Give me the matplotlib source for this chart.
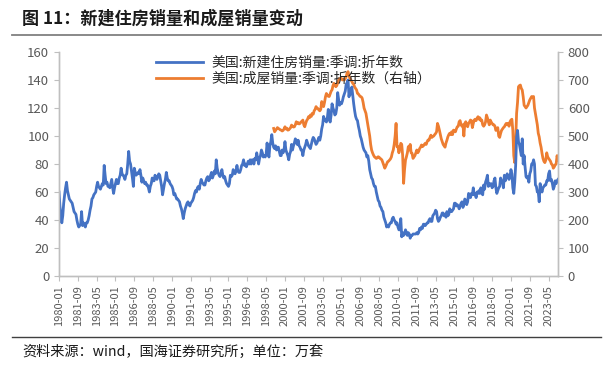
import matplotlib
matplotlib.use('Agg')
import matplotlib.pyplot as plt
import numpy as np
import pandas as pd

plt.rcParams['font.family'] = ['Noto Sans CJK SC', 'DejaVu Sans']

# US new home sales, SAAR, 万套 (monthly, 1980-01 .. 2024-03)
new_sales = [
    60, 50, 44, 38, 43, 52, 58, 63, 67, 61, 58, 55,      # 1980
    54, 53, 52, 49, 46, 45, 44, 40, 37, 35, 36, 37,      # 1981
    46, 36, 38, 37, 35, 38, 38, 40, 43, 47, 50, 55,      # 1982
    56, 58, 59, 60, 64, 67, 64, 63, 62, 64, 66, 65,      # 1983
    79, 72, 66, 67, 64, 64, 63, 66, 69, 63, 59, 63,      # 1984
    66, 69, 66, 66, 70, 72, 77, 73, 72, 71, 69, 72,      # 1985
    73, 80, 89, 82, 80, 75, 70, 64, 77, 74, 72, 73,      # 1986
    74, 73, 76, 72, 67, 70, 68, 66, 67, 65, 65, 63,      # 1987
    60, 64, 66, 70, 68, 68, 72, 70, 69, 71, 73, 72,      # 1988
    68, 64, 58, 62, 66, 69, 74, 70, 68, 68, 66, 65,      # 1989
    64, 62, 58, 59, 57, 55, 55, 54, 53, 50, 48, 45,      # 1990
    41, 45, 48, 50, 52, 53, 51, 50, 52, 53, 54, 56,      # 1991
    59, 61, 60, 63, 64, 62, 66, 69, 67, 66, 65, 65,      # 1992
    68, 70, 71, 68, 69, 72, 74, 70, 72, 75, 73, 83,      # 1993
    77, 74, 72, 71, 73, 76, 72, 70, 71, 68, 66, 65,      # 1994
    64, 66, 72, 71, 72, 76, 74, 73, 75, 79, 75, 74,      # 1995
    74, 76, 79, 80, 83, 79, 80, 78, 80, 82, 80, 83,      # 1996
    80, 83, 83, 80, 84, 83, 88, 84, 80, 84, 86, 90,      # 1997
    88, 85, 86, 85, 87, 95, 88, 85, 93, 96, 101, 95,     # 1998
    92, 91, 93, 90, 92, 92, 89, 86, 86, 90, 88, 90,      # 1999
    96, 90, 88, 86, 83, 87, 89, 94, 90, 93, 95, 98,      # 2000
    97, 94, 97, 93, 92, 90, 90, 86, 90, 92, 94, 97,      # 2001
    95, 93, 92, 91, 94, 97, 99, 98, 96, 94, 95, 97,      # 2002
    99, 97, 100, 105, 108, 114, 112, 111, 110, 113, 119, 112,   # 2003
    110, 115, 123, 120, 118, 115, 116, 120, 131, 126, 122, 124,  # 2004
    123, 125, 128, 130, 132, 137, 138, 140, 128, 133, 130, 135,  # 2005
    129, 123, 118, 114, 112, 111, 107, 104, 100, 98, 95, 92,     # 2006
    90, 89, 88, 85, 86, 82, 76, 73, 70, 69, 66, 64,      # 2007
    64, 60, 57, 54, 53, 50, 49, 47, 46, 42, 40, 38,      # 2008
    35, 36, 35, 37, 38, 38, 41, 42, 40, 39, 37, 38,      # 2009
    35, 33, 33, 41, 28, 31, 29, 30, 33, 31, 29, 31,      # 2010
    30, 27, 29, 29, 30, 30, 30, 30, 31, 30, 31, 34,      # 2011
    33, 35, 34, 37, 37, 36, 37, 38, 38, 40, 41, 39,      # 2012
    39, 43, 44, 45, 47, 46, 41, 39, 40, 42, 43, 45,      # 2013
    45, 43, 44, 42, 46, 43, 44, 48, 46, 46, 47, 48,      # 2014
    52, 52, 50, 51, 50, 48, 50, 52, 53, 49, 51, 55,      # 2015
    54, 51, 53, 59, 58, 56, 59, 58, 63, 58, 59, 56,      # 2016
    60, 59, 61, 59, 63, 61, 58, 65, 62, 67, 69, 72,      # 2017
    64, 66, 65, 66, 63, 64, 68, 70, 63, 59, 61, 63,      # 2018
    64, 70, 68, 67, 63, 72, 68, 70, 73, 71, 69, 71,      # 2019
    76, 73, 63, 59, 67, 79, 99, 104, 96, 94, 90, 86,     # 2020
    98, 80, 86, 78, 71, 70, 71, 67, 73, 75, 80, 80,      # 2021
    83, 80, 65, 64, 60, 60, 53, 66, 62, 60, 63, 64,      # 2022
    65, 65, 68, 68, 73, 75, 68, 69, 66, 62, 64, 68,      # 2023
    66, 68, 69,                                          # 2024
]

# US existing home sales, SAAR, 万套 (monthly, 1999-01 .. 2024-03), right axis
existing_sales = [
    527, 515, 520, 525, 530, 527, 525, 522, 521, 518, 520, 525,  # 1999
    533, 525, 528, 521, 522, 526, 530, 539, 535, 532, 533, 540,  # 2000
    551, 545, 548, 543, 545, 550, 553, 557, 540, 533, 545, 555,  # 2001
    560, 569, 565, 575, 570, 581, 578, 590, 595, 605, 600, 598,  # 2002
    593, 590, 595, 623, 615, 605, 620, 640, 652, 645, 642, 641,  # 2003
    650, 660, 665, 680, 688, 685, 676, 680, 690, 700, 705, 706,  # 2004
    706, 700, 702, 700, 705, 712, 725, 730, 715, 706, 700, 695,  # 2005
    688, 685, 675, 670, 665, 652, 650, 645, 641, 640, 635, 620,  # 2006
    600, 590, 581, 560, 540, 521, 500, 470, 450, 440, 432, 426,  # 2007
    423, 420, 422, 426, 424, 420, 418, 414, 405, 395, 385, 392,  # 2008
    400, 408, 410, 414, 418, 425, 440, 450, 470, 500, 545, 462,  # 2009
    462, 440, 455, 474, 470, 430, 331, 380, 414, 426, 440, 462,  # 2010
    450, 470, 440, 438, 420, 425, 430, 440, 450, 440, 445, 455,  # 2011
    460, 468, 462, 465, 470, 474, 470, 480, 486, 485, 495, 503,  # 2012
    495, 498, 500, 505, 509, 515, 545, 535, 521, 505, 490, 480,  # 2013
    470, 465, 460, 475, 485, 497, 505, 510, 505, 515, 505, 521,  # 2014
    520, 515, 525, 533, 535, 551, 555, 540, 535, 540, 500, 545,  # 2015
    551, 540, 533, 545, 550, 557, 555, 530, 545, 557, 560, 555,  # 2016
    563, 569, 560, 565, 555, 557, 540, 535, 540, 550, 575, 565,  # 2017
    551, 540, 557, 550, 545, 540, 540, 535, 520, 525, 530, 500,  # 2018
    495, 509, 520, 525, 530, 533, 540, 545, 540, 545, 535, 551,  # 2019
    557, 560, 520, 430, 405, 480, 581, 620, 676, 680, 682, 670,  # 2020
    664, 640, 610, 605, 600, 605, 610, 620, 629, 635, 641, 640,  # 2021
    641, 600, 581, 560, 540, 510, 497, 475, 460, 438, 420, 410,  # 2022
    405, 414, 440, 426, 420, 415, 410, 400, 397, 385, 390, 397,  # 2023
    400, 430, 414,                                               # 2024
]

months = pd.period_range('1980-01', periods=len(new_sales), freq='M')
exist_start = list(months.strftime('%Y-%m')).index('1999-01')

left_ticks = [0, 20, 40, 60, 80, 100, 120, 140, 160]
right_ticks = [0, 100, 200, 300, 400, 500, 600, 700, 800]

blue = '#4472C4'
orange = '#ED7D31'
grey = '#595959'
axis_grey = '#BFBFBF'

fig = plt.figure(figsize=(6.1, 3.65), dpi=100)
ax = fig.add_axes([0.0967, 0.2438, 0.8181, 0.6137])
ax2 = ax.twinx()

x = np.arange(len(new_sales))
x2 = np.arange(exist_start, exist_start + len(existing_sales))

l1, = ax.plot(x, new_sales, color=blue, lw=2.0, label='美国:新建住房销量:季调:折年数')
l2, = ax2.plot(x2, existing_sales, color=orange, lw=2.0, label='美国:成屋销量:季调:折年数（右轴）')

# blue line above orange
ax.set_zorder(ax2.get_zorder() + 1)
ax.patch.set_visible(False)

ax.set_xlim(0, len(new_sales) - 1)
ax.set_ylim(0, 160)
ax2.set_ylim(0, 800)
ax.set_yticks(left_ticks)
ax2.set_yticks(right_ticks)

xt = np.arange(0, len(new_sales), 20)
ax.set_xticks(xt)
ax.set_xticklabels([months[i].strftime('%Y-%m') for i in xt], rotation=90)

for a in (ax, ax2):
    for s in a.spines.values():
        s.set_color(axis_grey)
        s.set_linewidth(1.0)
    a.spines['top'].set_visible(False)
    a.tick_params(colors=grey, labelsize=9.5, length=3.5, width=0.8)
    a.tick_params(axis='both', color=axis_grey)
ax.tick_params(axis='x', labelsize=8, pad=3)

ax.legend(handles=[l1, l2], loc='upper center', bbox_to_anchor=(0.47, 1.04),
          frameon=False, fontsize=10, handlelength=3.4, handletextpad=0.6,
          labelspacing=0.15, labelcolor='#262626')

fig.text(0.036, 0.948, '图 11：新建住房销量和成屋销量变动', fontsize=12.3,
         fontweight='bold', color='#1a1a1a', va='center')
fig.add_artist(plt.Line2D([0.02, 0.985], [0.905, 0.905], color='#808080', lw=1.3))
fig.add_artist(plt.Line2D([0.02, 0.985], [0.078, 0.078], color='#404040', lw=1.0))
fig.text(0.036, 0.038, '资料来源：wind，国海证券研究所；单位：万套', fontsize=10.2,
         color='#1a1a1a', va='center')

fig.savefig('out.png', dpi=100)
